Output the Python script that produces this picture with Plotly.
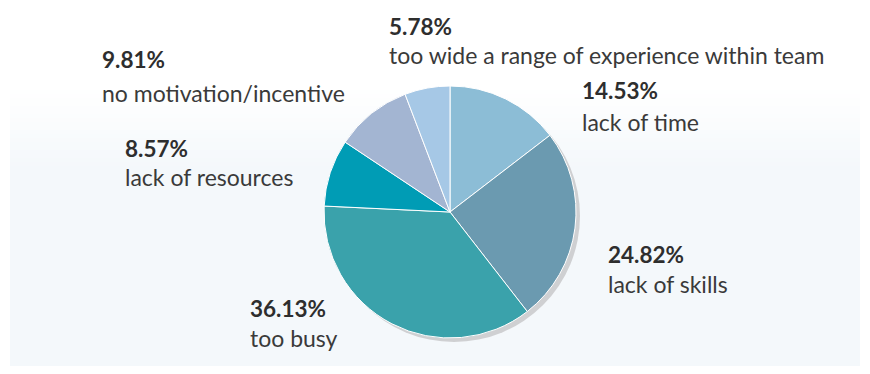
import plotly.graph_objects as go

# ---- data ----
categories = ["lack of time", "lack of skills", "too busy", "lack of resources",
              "no motivation/incentive", "too wide a range of experience within team"]
values = [14.53, 24.82, 36.13, 8.57, 9.81, 5.78]
pct_labels = ["14.53%", "24.82%", "36.13%", "8.57%", "9.81%", "5.78%"]
colors = ["#8cbdd6", "#6b9ab0", "#3aa2ab", "#009cb5", "#a3b5d2", "#a6c8e6"]

# label anchor positions in pixels (left x, pct-row center y, label-row center y)
label_pos = [(580, 91, 122), (606, 254, 284), (248, 308, 338),
             (123, 148, 177), (100, 60, 93), (387, 26, 55)]

W, H = 870, 374
cx, cy, r = 450, 212, 126
sdx, sdy = 4, 4


def px(x):
    return x / W


def py(y):
    return 1 - y / H


fig = go.Figure()

# shadow
fig.add_trace(go.Pie(
    values=[1], marker=dict(colors=["#cfd0d2"], line=dict(width=0)),
    textinfo="none", hoverinfo="skip", sort=False, showlegend=False,
    domain=dict(x=[px(cx - r + sdx), px(cx + r + sdx)], y=[py(cy + r + sdy), py(cy - r + sdy)])
))

fig.add_trace(go.Pie(
    labels=categories, values=values, sort=False, direction="clockwise", rotation=0,
    marker=dict(colors=colors, line=dict(color="white", width=1)),
    textinfo="none", showlegend=False,
    domain=dict(x=[px(cx - r), px(cx + r)], y=[py(cy + r), py(cy - r)])
))

shapes = []
# background panel with soft top fade
fade_top, fade_bot = 90, 170
steps = 20
base = (244, 248, 251)
for i in range(steps):
    y0 = fade_top + (fade_bot - fade_top) * i / steps
    a = (i + 1) / steps
    col = tuple(round(255 + (b - 255) * a) for b in base)
    shapes.append(dict(type="rect", xref="paper", yref="paper", layer="below",
                       x0=px(10), x1=px(860), y0=py(y0 + (fade_bot - fade_top) / steps + 1), y1=py(y0),
                       fillcolor="rgb(%d,%d,%d)" % col, line=dict(width=0)))
shapes.append(dict(type="rect", xref="paper", yref="paper", layer="below",
                   x0=px(10), x1=px(860), y0=py(366), y1=py(fade_bot),
                   fillcolor="rgb(%d,%d,%d)" % base, line=dict(width=0)))

annotations = []
for cat, pct, (lx, y1, y2) in zip(categories, pct_labels, label_pos):
    annotations.append(dict(x=px(lx), y=py(y1), xref="paper", yref="paper", xanchor="left",
                            yanchor="middle", showarrow=False, text="<b>%s</b>" % pct,
                            font=dict(family="Lato", size=22.5, color="#2e2e2e")))
    annotations.append(dict(x=px(lx), y=py(y2), xref="paper", yref="paper", xanchor="left",
                            yanchor="middle", showarrow=False, text=cat,
                            font=dict(family="Lato", size=23, color="#3a3a3a")))

fig.update_layout(width=W, height=H, margin=dict(l=0, r=0, t=0, b=0),
                  paper_bgcolor="white", plot_bgcolor="white",
                  shapes=shapes, annotations=annotations)

fig.write_html("out.html")
